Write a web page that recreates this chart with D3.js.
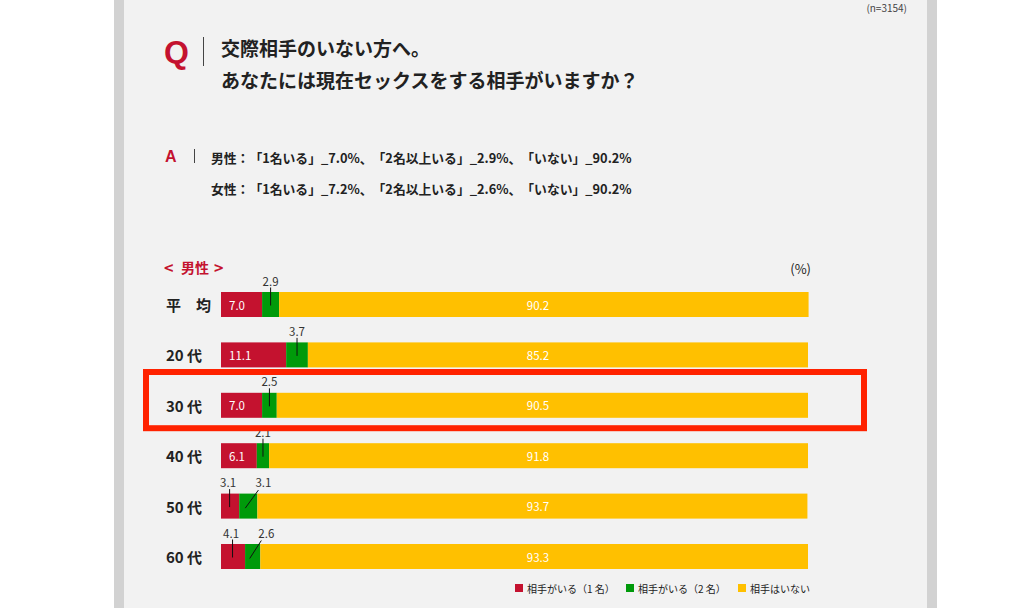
<!DOCTYPE html>
<html><head><meta charset="utf-8">
<script src="https://cdn.jsdelivr.net/npm/d3@7"></script>
<style>
html,body{margin:0;padding:0;background:#fff;}
svg{display:block;font-family:"Noto Sans CJK JP","Noto Sans",sans-serif;text-spacing-trim:space-all;}
svg text{text-spacing-trim:space-all;}
</style></head>
<body>
<svg id="c" width="1024" height="608"></svg>
<script>
const categories = ["平　均", "20 代", "30 代", "40 代", "50 代", "60 代"];
const oneSeries = [7.0, 11.1, 7.0, 6.1, 3.1, 4.1];
const twoSeries = [2.9, 3.7, 2.5, 2.1, 3.1, 2.6];
const noneSeries = [90.2, 85.2, 90.5, 91.8, 93.7, 93.3];
const seriesNames = ["相手がいる（1 名）", "相手がいる（2 名）", "相手はいない"];
const colors = ["#c4122f", "#009a0a", "#ffc000"];
const highlighted = "30 代";

const svg = d3.select("#c");
// panel
svg.append("rect").attr("x",114).attr("y",0).attr("width",823).attr("height",608).attr("fill","#d2d2d2");
svg.append("rect").attr("x",124).attr("y",0).attr("width",803).attr("height",608).attr("fill","#f2f2f2");

svg.append("text").attr("x",907).attr("y",12).attr("text-anchor","end")
  .attr("font-size",10).attr("fill","#444").text("(n=3154)");

// Q
svg.append("text").attr("x",164).attr("y",63).attr("font-size",32).attr("font-weight",700)
  .attr("font-family","Liberation Sans, Arial, sans-serif").attr("fill","#c4122f").text("Q");
svg.append("line").attr("x1",203.5).attr("x2",203.5).attr("y1",37).attr("y2",66).attr("stroke","#444").attr("stroke-width",1);
svg.append("text").attr("x",221).attr("y",47).attr("dominant-baseline","central").attr("font-size",19)
  .attr("font-weight",700).attr("fill","#222").text("交際相手のいない方へ。");
svg.append("text").attr("x",221).attr("y",79).attr("dominant-baseline","central").attr("font-size",19)
  .attr("font-weight",700).attr("fill","#222").text("あなたには現在セックスをする相手がいますか？");

// A
svg.append("text").attr("x",165).attr("y",162).attr("font-size",16).attr("font-weight",700)
  .attr("font-family","Liberation Sans, Arial, sans-serif").attr("fill","#c4122f").text("A");
svg.append("line").attr("x1",194.5).attr("x2",194.5).attr("y1",149).attr("y2",163).attr("stroke","#444").attr("stroke-width",1);
const aLines = ["男性：「1名いる」_7.0%、「2名以上いる」_2.9%、「いない」_90.2%",
                "女性：「1名いる」_7.2%、「2名以上いる」_2.6%、「いない」_90.2%"];
aLines.forEach((t,i)=>{
  svg.append("text").attr("x",211).attr("y",157+i*31).attr("dominant-baseline","central")
    .attr("font-size",12.8).attr("font-weight",700).attr("fill","#222").text(t);
});

const sect = [["<",164,16],["男性",181,14],[">",214,16]];
sect.forEach(([t,px,fs])=>{
  svg.append("text").attr("x",px).attr("y",267).attr("dominant-baseline","central").attr("font-size",fs)
    .attr("font-weight",700).attr("fill","#c4122f").text(t);
});
svg.append("text").attr("x",811).attr("y",268).attr("dominant-baseline","central").attr("text-anchor","end")
  .attr("font-size",13).attr("fill","#222").text("(%)");

const x = d3.scaleLinear().domain([0,100]).range([221,808]);
const y = d3.scalePoint().domain(categories).range([304.5,556.5]);
const barH = 25;

const rows = categories.map((c,i)=>({cat:c, vals:[oneSeries[i], twoSeries[i], noneSeries[i]]}));
const stack = d3.stack().keys([0,1,2]).value((d,k)=>d.vals[k])(rows);

const g = svg.append("g");
stack.forEach((layer,k)=>{
  g.selectAll(null).data(layer).enter().append("rect")
    .attr("x",d=>x(d[0])).attr("width",d=>x(d[1])-x(d[0]))
    .attr("y",d=>y(d.data.cat)-barH/2).attr("height",barH).attr("fill",colors[k]);
});

// row labels
svg.selectAll(null).data(categories).enter().append("text")
  .attr("x",166).attr("y",d=>y(d)).attr("dominant-baseline","central")
  .attr("font-size",15).attr("font-weight",700).attr("fill","#222").text(d=>d);

const fmt = d3.format(".1f");
rows.forEach(r=>{
  const cy = y(r.cat);
  const [a,b,c] = r.vals;
  const redAbove = a < 5;
  if (redAbove) {
    const cx = x(a/2);
    svg.append("line").attr("x1",cx-0.5).attr("x2",cx-0.5).attr("y1",cy-17).attr("y2",cy+1).attr("stroke","#111").attr("stroke-width",1);
    svg.append("text").attr("x",cx-2).attr("y",cy-24).attr("dominant-baseline","central").attr("text-anchor","middle")
      .attr("font-size",11.5).attr("fill","#333").text(fmt(a));
  } else {
    svg.append("text").attr("x",x(0)+8).attr("y",cy).attr("dominant-baseline","central")
      .attr("font-size",11.5).attr("fill","#fff").text(fmt(a));
  }
  const gx = x(a+b/2);
  if (redAbove) {
    const lx = x(a+b)+6;
    svg.append("line").attr("x1",lx-5).attr("y1",cy-16).attr("x2",gx-3).attr("y2",cy+2).attr("stroke","#111").attr("stroke-width",1);
    svg.append("text").attr("x",lx).attr("y",cy-24).attr("dominant-baseline","central").attr("text-anchor","middle")
      .attr("font-size",11.5).attr("fill","#333").text(fmt(b));
  } else {
    svg.append("line").attr("x1",gx).attr("x2",gx).attr("y1",cy-17).attr("y2",cy+1).attr("stroke","#111").attr("stroke-width",1);
    svg.append("text").attr("x",gx).attr("y",cy-24).attr("dominant-baseline","central").attr("text-anchor","middle")
      .attr("font-size",11.5).attr("fill","#333").text(fmt(b));
  }
  svg.append("text").attr("x",x(54)).attr("y",cy).attr("dominant-baseline","central").attr("text-anchor","middle")
    .attr("font-size",11.5).attr("fill","#fff").text(fmt(c));
});

// highlight box
const hy = y(highlighted);
svg.append("rect").attr("x",146).attr("y",hy-33.3).attr("width",718).attr("height",56.2)
  .attr("fill","none").attr("stroke","#ff2200").attr("stroke-width",6);

// legend
const legX = [515, 626, 738];
seriesNames.forEach((n,i)=>{
  svg.append("rect").attr("x",legX[i]).attr("y",584).attr("width",8).attr("height",8).attr("fill",colors[i]);
  svg.append("text").attr("x",legX[i]+12).attr("y",588).attr("dominant-baseline","central")
    .attr("font-size",10).attr("fill","#222").text(n);
});
</script>
</body></html>
